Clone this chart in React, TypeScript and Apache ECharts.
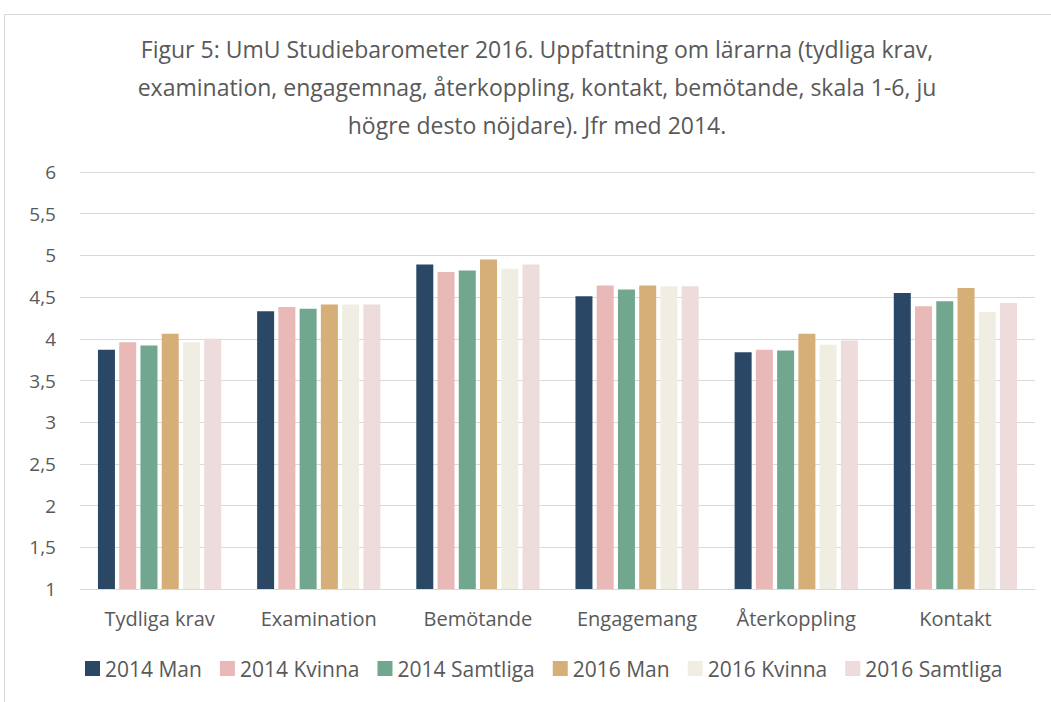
import React, { useEffect, useRef } from "react";
import * as echarts from "echarts";

const categories = ["Tydliga krav", "Examination", "Bemötande", "Engagemang", "Återkoppling", "Kontakt"];
const seriesNames = ["2014 Man", "2014 Kvinna", "2014 Samtliga", "2016 Man", "2016 Kvinna", "2016 Samtliga"];
const man2014 = [3.87, 4.33, 4.89, 4.51, 3.84, 4.55];
const kvinna2014 = [3.96, 4.38, 4.8, 4.64, 3.87, 4.39];
const samtliga2014 = [3.92, 4.36, 4.82, 4.59, 3.86, 4.45];
const man2016 = [4.06, 4.41, 4.95, 4.64, 4.06, 4.61];
const kvinna2016 = [3.96, 4.41, 4.84, 4.63, 3.93, 4.32];
const samtliga2016 = [4.0, 4.41, 4.89, 4.63, 3.98, 4.43];
const seriesValues = [man2014, kvinna2014, samtliga2014, man2016, kvinna2016, samtliga2016];
const colors = ["#2a4866", "#e9b9b8", "#72a78f", "#d5ae78", "#f0eee2", "#eddcdb"];
const titleLines = [
  "Figur 5: UmU Studiebarometer 2016. Uppfattning om lärarna (tydliga krav,",
  "examination, engagemnag, återkoppling, kontakt, bemötande, skala 1-6, ju",
  "högre desto nöjdare). Jfr med 2014.",
];

const FONT = "Open Sans";

export default function App() {
  const ref = useRef<HTMLDivElement>(null);
  useEffect(() => {
    if (!ref.current) return;
    const chart = echarts.init(ref.current, null, { renderer: "svg" });
    chart.setOption({
      animation: false,
      backgroundColor: "#ffffff",
      textStyle: { fontFamily: FONT },
      graphic: [
        {
          type: "rect",
          shape: { x: 4.5, y: 14.5, width: 1100, height: 800 },
          style: { fill: "none", stroke: "#d9d9d9", lineWidth: 1 },
          silent: true,
        },
        ...titleLines.map((t, i) => ({
          type: "text",
          x: 537,
          y: 49 + i * 38,
          style: {
            text: t,
            fill: "#595959",
            font: `23px "${FONT}"`,
            textAlign: "center",
            textVerticalAlign: "middle",
          },
        })),
      ],
      legend: {
        bottom: 18,
        left: 80,
        itemWidth: 15,
        itemHeight: 15,
        itemGap: 18,
        icon: "rect",
        textStyle: { color: "#595959", fontSize: 21, fontFamily: FONT },
        data: seriesNames,
      },
      grid: { left: 80, right: 16, top: 172, bottom: 113, containLabel: false },
      xAxis: {
        type: "category",
        data: categories,
        axisLine: { lineStyle: { color: "#d9d9d9", width: 1 } },
        axisTick: { show: false },
        axisLabel: { color: "#595959", fontSize: 20, margin: 19, fontFamily: FONT },
      },
      yAxis: {
        type: "value",
        min: 1,
        max: 6,
        interval: 0.5,
        axisLine: { show: false },
        axisTick: { show: false },
        splitLine: { lineStyle: { color: "#d9d9d9", width: 1 } },
        axisLabel: {
          color: "#595959",
          fontSize: 19,
          margin: 24,
          fontFamily: FONT,
          formatter: (v: number) => String(v).replace(".", ","),
        },
      },
      series: seriesNames.map((name, i) => ({
        name,
        type: "bar",
        data: seriesValues[i],
        barWidth: 17,
        barGap: "25%",
        itemStyle: { color: colors[i] },
      })),
    });
    return () => chart.dispose();
  }, []);
  return <div ref={ref} style={{ position: "fixed", left: 0, top: 0, width: 1051, height: 702 }} />;
}
